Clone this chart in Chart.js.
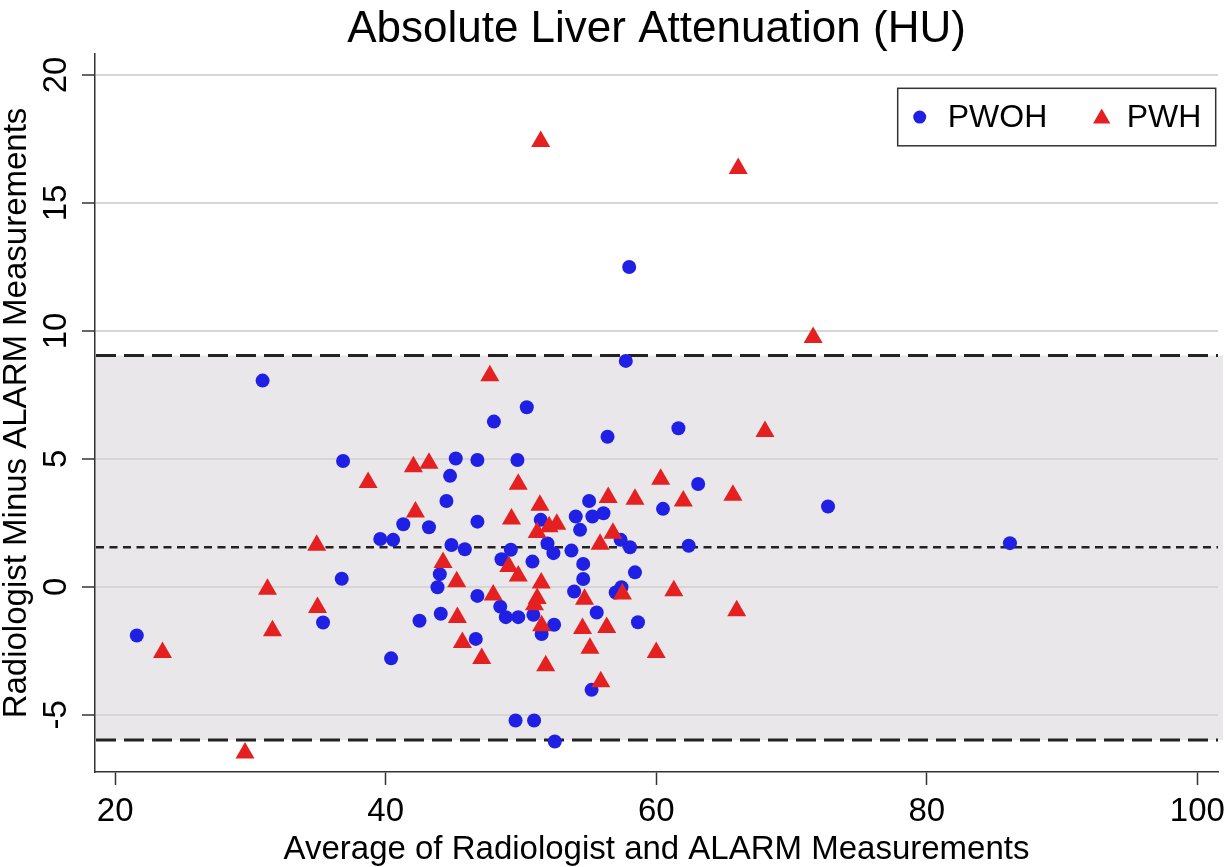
<!DOCTYPE html>
<html>
<head>
<meta charset="utf-8">
<script src="https://cdn.jsdelivr.net/npm/chart.js@4.4.1/dist/chart.umd.min.js"></script>
<style>
  html, body { margin: 0; padding: 0; background: #ffffff; overflow: hidden; }
  #wrap { width: 1225px; height: 867px; position: relative; }
</style>
</head>
<body>
<div id="wrap"><canvas id="c"></canvas></div>
<script>
// ---- Data ----
const chartTitle = "Absolute Liver Attenuation (HU)";
const xTitle = "Average of Radiologist and ALARM Measurements";
const yTitle = "Radiologist Minus ALARM Measurements";
const seriesLabels = ["PWOH", "PWH"];

const pwohX = [21.6, 30.9, 35.37, 36.75, 36.85, 39.6, 40.55, 40.4, 41.3, 42.5, 43.2, 43.83, 44.0, 44.07, 44.49, 44.76, 44.86, 45.18, 45.85, 46.66, 46.78, 46.78, 46.78, 48.0, 48.47, 48.56, 48.88, 49.25, 49.6, 49.74, 49.8, 50.43, 50.85, 50.92, 50.97, 51.46, 51.53, 51.96, 52.4, 52.45, 52.5, 53.73, 53.93, 54.05, 54.37, 54.6, 54.6, 55.04, 55.22, 55.28, 55.6, 56.1, 56.4, 57.0, 57.37, 57.43, 57.75, 58.0, 58.06, 58.43, 58.65, 60.5, 61.64, 62.4, 63.1, 72.7, 86.15];
const pwohY = [-1.90, 8.06, -1.39, 0.32, 4.92, 1.87, 1.84, -2.79, 2.45, -1.32, 2.33, -0.01, 0.50, -1.05, 3.36, 4.34, 1.64, 5.02, 1.47, -2.03, 4.96, 2.55, -0.35, 6.46, -0.77, 1.08, -1.18, 1.45, -5.22, 4.96, -1.18, 7.02, 0.99, -1.09, -5.22, 2.62, -1.84, 1.70, 1.32, -1.48, -6.04, 1.42, -0.18, 2.75, 2.23, 0.90, 0.31, 3.36, -4.02, 2.75, -1.00, 2.88, 5.87, -0.22, 1.84, -0.01, 8.83, 12.5, 1.55, 0.57, -1.38, 3.05, 6.20, 1.61, 4.02, 3.14, 1.71];

const pwhX = [23.5, 29.6, 31.26, 31.63, 34.9, 34.96, 38.7, 42.05, 42.2, 43.2, 44.24, 45.25, 45.3, 45.67, 47.1, 47.7, 47.95, 49.1, 49.3, 49.8, 49.8, 51.2, 51.4, 51.46, 51.5, 51.2, 51.0, 51.53, 51.83, 52.08, 52.65, 54.55, 54.7, 55.1, 55.85, 55.9, 56.34, 56.45, 56.8, 57.5, 58.43, 60.0, 60.33, 61.3, 62.0, 65.67, 65.95, 66.06, 68.04, 71.6];
const pwhY = [-2.56, -6.49, -0.09, -1.71, 1.63, -0.80, 4.08, 4.70, 2.93, 4.83, 0.95, 0.20, -1.19, -2.17, -2.80, 8.25, -0.32, 0.80, 2.65, 4.01, 0.43, 2.13, 3.19, 17.4, 0.15, -0.45, -0.70, -1.52, -3.08, 2.35, 2.45, -1.62, -0.48, -2.40, 1.67, -3.70, -1.58, 3.49, 2.10, -0.28, 3.43, -2.56, 4.21, -0.15, 3.36, 3.58, -0.93, 16.35, 6.07, 9.74];

const meanDiff = 1.55;
const upperLoA = 9.04;
const lowerLoA = -5.98;

const xTicks = [20, 40, 60, 80, 100];
const yTicks = [-5, 0, 5, 10, 15, 20];

// ---- Styling ----
const FONT = "'Liberation Sans', Arial, Helvetica, sans-serif";
const BLUE = "#2020e4";
const RED = "#e42020";

const toPoints = (xs, ys) => xs.map((x, i) => ({ x: x, y: ys[i] }));

// shaded agreement band (under grid) and reference lines (under points)
const bandPlugin = {
  id: 'band',
  beforeDraw(chart) {
    const { ctx, chartArea: a, scales: { y } } = chart;
    const top = y.getPixelForValue(upperLoA);
    const bot = y.getPixelForValue(lowerLoA);
    ctx.save();
    ctx.fillStyle = '#e9e7e9';
    ctx.fillRect(a.left, top, a.right - a.left + 5, bot - top);
    ctx.restore();
  },
  beforeDatasetsDraw(chart) {
    const { ctx, chartArea: a, scales: { y } } = chart;
    const line = (v, dash, w) => {
      const py = y.getPixelForValue(v);
      ctx.save();
      ctx.strokeStyle = '#222222';
      ctx.lineWidth = w;
      ctx.setLineDash(dash);
      ctx.beginPath();
      ctx.moveTo(a.left + 1, py);
      ctx.lineTo(a.right, py);
      ctx.stroke();
      ctx.restore();
    };
    line(upperLoA, [20, 8], 3);
    line(lowerLoA, [20, 8], 3);
    line(meanDiff, [8, 5.5], 2.6);
  }
};

// boxed legend inside the plot, top right
const boxLegendPlugin = {
  id: 'boxLegend',
  afterDraw(chart) {
    const { ctx, chartArea: a } = chart;
    const w = 318, h = 57.5;
    const left = a.right - 2.3 - w;
    const top = a.top + 34.3;
    ctx.save();
    ctx.strokeStyle = '#333333';
    ctx.lineWidth = 1.5;
    ctx.strokeRect(left, top, w, h);
    const cy = top + h / 2;
    const ds = chart.data.datasets;
    const offsets = [{ m: 22, t: 50, r: 6.5 }, { m: 204, t: 229, r: 10 }];
    ds.forEach((d, i) => {
      const o = offsets[i];
      const style = d.pointStyle;
      const opts = { pointStyle: style, radius: o.r, rotation: 0, borderWidth: 0 };
      ctx.fillStyle = d.backgroundColor;
      ctx.strokeStyle = d.backgroundColor;
      Chart.helpers.drawPoint(ctx, opts, left + o.m, cy + (style === 'triangle' ? 1.5 : 0));
      ctx.fillStyle = '#000000';
      ctx.font = "32px " + FONT;
      ctx.textAlign = 'left';
      ctx.textBaseline = 'middle';
      ctx.fillText(d.label, left + o.t, cy + 1);
    });
    ctx.restore();
  }
};

new Chart(document.getElementById('c'), {
  type: 'scatter',
  data: {
    datasets: [
      {
        label: seriesLabels[0],
        data: toPoints(pwohX, pwohY),
        pointStyle: 'circle',
        pointRadius: 7,
        pointHoverRadius: 7,
        backgroundColor: BLUE,
        borderColor: BLUE,
        borderWidth: 0,
        order: 2
      },
      {
        label: seriesLabels[1],
        data: toPoints(pwhX, pwhY),
        pointStyle: 'triangle',
        pointRadius: 11,
        pointHoverRadius: 11,
        backgroundColor: RED,
        borderColor: RED,
        borderWidth: 0,
        order: 1
      }
    ]
  },
  options: {
    responsive: true,
    maintainAspectRatio: false,
    animation: false,
    devicePixelRatio: 1,
    layout: { autoPadding: false, padding: { left: 0, right: 7, top: 0, bottom: 0 } },
    plugins: {
      legend: { display: false },
      tooltip: { enabled: false },
      title: {
        display: true,
        fullSize: false,
        text: chartTitle,
        color: '#000000',
        font: { family: FONT, size: 44, weight: 'normal', lineHeight: 1 },
        padding: { top: 8, bottom: 2 }
      }
    },
    scales: {
      x: {
        type: 'linear',
        min: 18.51,
        max: 101.53,
        afterBuildTicks: (s) => { s.ticks = xTicks.map(v => ({ value: v })); },
        afterFit: (s) => { s.height = 95; s.paddingLeft = 0; s.paddingRight = 0; },
        ticks: {
          includeBounds: false,
          stepSize: 20,
          padding: 7,
          color: '#000000',
          maxRotation: 0,
          autoSkip: false,
          font: { family: FONT, size: 33 }
        },
        grid: {
          display: true,
          drawOnChartArea: false,
          drawTicks: true,
          tickLength: 13,
          tickColor: '#333333',
          tickWidth: 1.5
        },
        border: { display: true, color: '#333333', width: 1.5 },
        title: {
          display: true,
          text: xTitle,
          color: '#000000',
          font: { family: FONT, size: 33, lineHeight: 1 },
          padding: { top: 0, bottom: 0.5 }
        }
      },
      y: {
        type: 'linear',
        min: -7.23,
        max: 20.82,
        afterBuildTicks: (s) => { s.ticks = yTicks.map(v => ({ value: v })); },
        afterFit: (s) => { s.width = 95; s.paddingTop = 0; s.paddingBottom = 0; },
        ticks: {
          includeBounds: false,
          stepSize: 5,
          padding: 7,
          color: '#000000',
          minRotation: 90,
          maxRotation: 90,
          crossAlign: 'center',
          autoSkip: false,
          font: { family: FONT, size: 33 }
        },
        grid: {
          display: true,
          drawOnChartArea: true,
          color: '#d6d6d6',
          lineWidth: 2,
          drawTicks: true,
          tickLength: 13,
          tickColor: '#333333',
          tickWidth: 1.5
        },
        border: { display: true, color: '#333333', width: 1.5 },
        title: {
          display: true,
          text: yTitle,
          color: '#000000',
          font: { family: FONT, size: 33, lineHeight: 1 },
          padding: { top: 0.5, bottom: 0 }
        }
      }
    }
  },
  plugins: [bandPlugin, boxLegendPlugin]
});
</script>
</body>
</html>
